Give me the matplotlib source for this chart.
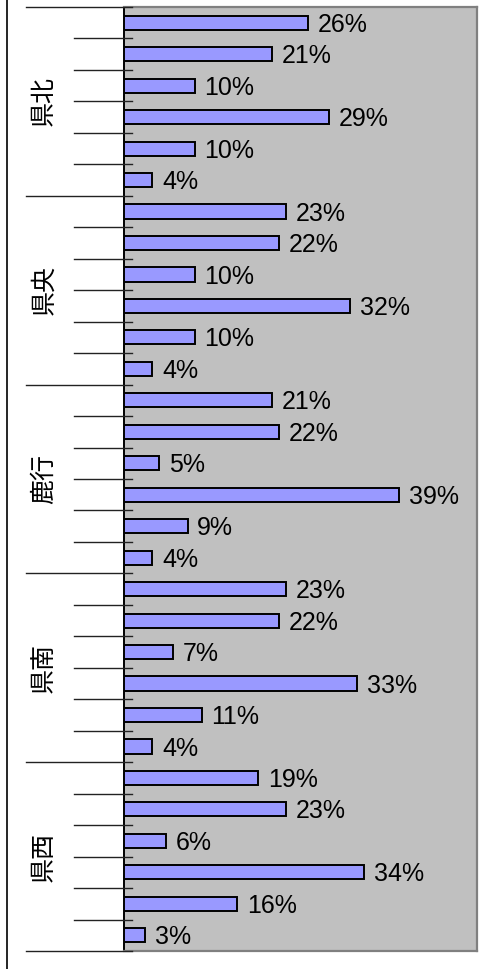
import matplotlib
matplotlib.use("Agg")
import matplotlib.pyplot as plt
from matplotlib.lines import Line2D
import matplotlib.transforms as mtransforms
from matplotlib import font_manager

regions = ["県北", "県央", "鹿行", "県南", "県西"]
values = [
    [26, 21, 10, 29, 10, 4],
    [23, 22, 10, 32, 10, 4],
    [21, 22, 5, 39, 9, 4],
    [23, 22, 7, 33, 11, 4],
    [19, 23, 6, 34, 16, 3],
]

installed = {f.name for f in font_manager.fontManager.ttflist}
label_font = "Liberation Sans Narrow" if "Liberation Sans Narrow" in installed else "Liberation Sans"

W, H = 493, 969
fig = plt.figure(figsize=(W / 100, H / 100), dpi=100)
fig.patch.set_facecolor("white")

ax_left, ax_right, ax_top, ax_bottom = 124, 477, 7, 951
ax = fig.add_axes([ax_left / W, (H - ax_bottom) / H,
                   (ax_right - ax_left) / W, (ax_bottom - ax_top) / H])
ax.set_facecolor("#C0C0C0")

n_per = len(values[0])
flat = [v for grp in values for v in grp]
ypos = list(range(len(flat)))

ax.barh(ypos, flat, height=0.45, color="#9999FF", edgecolor="black",
        linewidth=1.4, zorder=3)

for y, v in zip(ypos, flat):
    ax.annotate(f"{v}%", xy=(v, y), xytext=(7, -1.5), textcoords="offset points",
                va="center", ha="left", fontsize=18,
                family=[label_font, "DejaVu Sans"], color="black")

ax.set_xlim(0, 50)
ax.set_ylim(len(flat) - 0.5, -0.5)
ax.set_xticks([])
ax.set_yticks([])

for side in ("top", "right", "bottom"):
    ax.spines[side].set_color("#808080")
    ax.spines[side].set_linewidth(1.6)
ax.spines["left"].set_color("black")
ax.spines["left"].set_linewidth(1.4)

# category tick marks: short ones between bars, long ones between regions
axw = ax_right - ax_left
trans = mtransforms.blended_transform_factory(ax.transAxes, ax.transData)
for i in range(len(flat) + 1):
    y = i - 0.5
    x0 = -98 / axw if i % n_per == 0 else -50 / axw
    ax.add_line(Line2D([x0, 8 / axw], [y, y], transform=trans, color="#222222",
                       linewidth=1.0, clip_on=False, zorder=4))

for g, name in enumerate(regions):
    yc = g * n_per + (n_per - 1) / 2
    ax.text(-80 / axw, yc, name, transform=trans, rotation=90,
            ha="center", va="center", fontsize=18,
            family=["Noto Sans CJK JP", "DejaVu Sans"], color="black")

# outer chart frame edge on the left
fig.add_artist(Line2D([6.5 / W, 6.5 / W], [0, 1], transform=fig.transFigure,
                      color="black", linewidth=1.2))

fig.savefig("out.png", dpi=100, facecolor="white")
